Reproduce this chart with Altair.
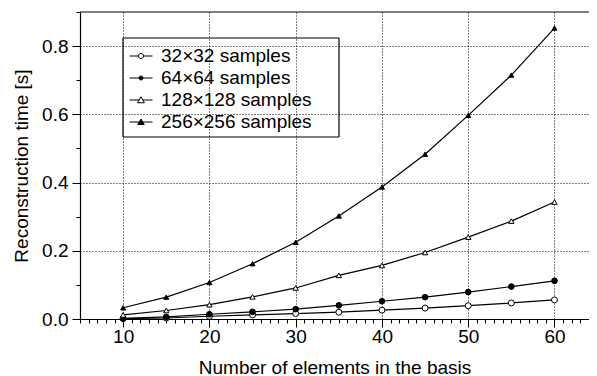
import altair as alt
import pandas as pd

n_elements = [10, 15, 20, 25, 30, 35, 40, 45, 50, 55, 60]
series_names = ["32×32 samples", "64×64 samples", "128×128 samples", "256×256 samples"]
t32 = [0.001, 0.003, 0.008, 0.012, 0.016, 0.020, 0.026, 0.032, 0.039, 0.047, 0.056]
t64 = [0.002, 0.006, 0.014, 0.021, 0.029, 0.040, 0.052, 0.064, 0.079, 0.095, 0.112]
t128 = [0.012, 0.025, 0.042, 0.065, 0.091, 0.128, 0.157, 0.195, 0.240, 0.287, 0.343]
t256 = [0.033, 0.064, 0.107, 0.162, 0.225, 0.302, 0.387, 0.483, 0.597, 0.715, 0.853]

x_tick_values = list(range(5, 65))
y_tick_values = [0, 0.1, 0.2, 0.3, 0.4, 0.5, 0.6, 0.7, 0.8, 0.9]

rows = []
for name, vals in zip(series_names, [t32, t64, t128, t256]):
    for n, v in zip(n_elements, vals):
        rows.append({"n": n, "t": v, "series": name})
df = pd.DataFrame(rows)

FONT = "Liberation Sans"
W, H = 509, 307

x_enc = alt.X(
    "n:Q",
    scale=alt.Scale(domain=[5, 64], nice=False, zero=False),
    axis=alt.Axis(
        values=x_tick_values,
        title="Number of elements in the basis",
        labelExpr="datum.value % 10 === 0 ? datum.label : ''",
        tickSize={"condition": {"test": "datum.value % 10 === 0", "value": 8}, "value": 4},
        gridOpacity={"condition": {"test": "datum.value % 10 === 0", "value": 1}, "value": 0},
        labelPadding=0,
        titlePadding=12,
    ),
)
y_enc = alt.Y(
    "t:Q",
    scale=alt.Scale(domain=[0, 0.9], nice=False),
    axis=alt.Axis(
        values=y_tick_values,
        title="Reconstruction time [s]",
        labelExpr="round(datum.value * 10) % 2 === 0 ? datum.label : ''",
        tickSize={"condition": {"test": "round(datum.value * 10) % 2 === 0", "value": 8}, "value": 4},
        gridOpacity={"condition": {"test": "round(datum.value * 10) % 2 === 0 && datum.value > 0", "value": 1}, "value": 0},
        labelPadding=4,
        titlePadding=10,
    ),
)

lines = alt.Chart(df).mark_line(color="black", strokeWidth=1.2).encode(
    x=x_enc, y=y_enc, detail="series:N"
)

points = alt.Chart(df).mark_point(filled=True, stroke="black", strokeWidth=1, opacity=1).encode(
    x=x_enc,
    y=y_enc,
    shape=alt.Shape("series:N", scale=alt.Scale(domain=series_names,
                    range=["circle", "circle", "triangle-up", "triangle-up"]), legend=None),
    size=alt.Size("series:O", scale=alt.Scale(domain=series_names, range=[36, 25, 90, 64]), legend=None),
    fill=alt.Fill("series:N", scale=alt.Scale(domain=series_names,
                  range=["white", "black", "white", "black"]), legend=None),
)

legend_paths = [
    "M-1,0H-0.22M0.22,0H1M0.22,0A0.22,0.22 0 1,1 -0.22,0A0.22,0.22 0 1,1 0.22,0Z",
    "M-1,0H1M0.17,0A0.17,0.17 0 1,1 -0.17,0A0.17,0.17 0 1,1 0.17,0Z",
    "M-1,0H-0.15M0.15,0H1M0,-0.28L0.3,0.24L-0.3,0.24Z",
    "M-1,0H1M0,-0.26L0.28,0.22L-0.28,0.22Z",
]
leg = alt.Legend(
    orient="none", legendX=43, legendY=26, title=None, padding=6,
    symbolSize=529, symbolStrokeColor="black", symbolStrokeWidth=1, symbolOpacity=1,
    labelFont=FONT, labelFontSize=19, labelColor="black", labelOffset=8, rowPadding=0,
)
legend_layer = alt.Chart(df).mark_point(filled=True, opacity=0).encode(
    x=x_enc,
    y=y_enc,
    shape=alt.Shape("series:N", scale=alt.Scale(domain=series_names, range=legend_paths), legend=leg),
    fill=alt.Fill("series:N", scale=alt.Scale(domain=series_names,
                  range=["white", "black", "white", "black"]), legend=leg),
    stroke=alt.Stroke("series:N", scale=alt.Scale(domain=series_names,
                      range=["black", "black", "black", "black"]), legend=leg),
)

frame = alt.Chart(pd.DataFrame({"a": [0]}))


def hrule(x0, x1, y0, w=1.2):
    return frame.mark_rule(color="black", strokeWidth=w).encode(
        x=alt.value(x0), x2=alt.value(x1), y=alt.value(y0))


def vrule(x0, y0, y1, w=1.2):
    return frame.mark_rule(color="black", strokeWidth=w).encode(
        x=alt.value(x0), y=alt.value(y0), y2=alt.value(y1))


top_border = hrule(0, W, 0)
box_l, box_r, box_t, box_b = 43, 259, 26, 125
legend_box = [
    hrule(box_l, box_r, box_t), hrule(box_l, box_r, box_b),
    vrule(box_l, box_t, box_b), vrule(box_r, box_t, box_b),
]

chart = (
    alt.layer(top_border, *legend_box, lines, points, legend_layer)
    .resolve_scale(shape="independent", fill="independent", size="independent", stroke="independent")
    .properties(
        width=W, height=H,
        autosize=alt.AutoSizeParams(type="none"),
        padding={"left": 72, "top": 4, "right": 0, "bottom": 60},
    )
    .configure_view(stroke=None)
    .configure_axis(
        labelFont=FONT, labelFontSize=19, labelColor="black",
        titleFont=FONT, titleFontSize=19, titleFontWeight="normal", titleColor="black",
        domainColor="black", domainWidth=1.2, tickColor="black", tickWidth=1,
        grid=True, gridColor="black", gridDash=[1, 2], gridWidth=1,
    )
)

chart.save("out.html", embed_options={"renderer": "svg", "actions": False})
